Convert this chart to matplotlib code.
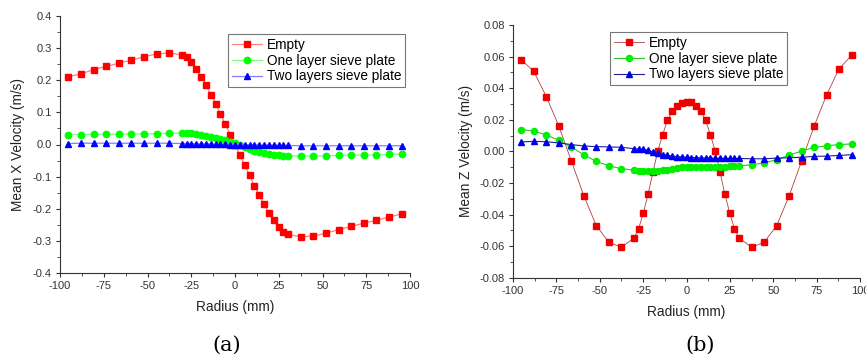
import matplotlib
matplotlib.use('Agg')
import matplotlib.pyplot as plt
from matplotlib.ticker import MultipleLocator, FormatStrFormatter

plt.rcParams['font.family'] = ['Liberation Sans', 'DejaVu Sans']
plt.rcParams['axes.unicode_minus'] = False

# 측정 위치 (반경, mm)
radius = [-95.2, -88.0, -80.8, -73.6, -66.4, -59.2, -52.0, -44.8, -37.6,
          -30.4, -27.6, -24.9, -22.1, -19.3, -16.6, -13.8, -11.0, -8.3, -5.5, -2.8,
          0.0, 2.8, 5.5, 8.3, 11.0, 13.8, 16.6, 19.3, 22.1, 24.9, 27.6, 30.4,
          37.6, 44.8, 52.0, 59.2, 66.4, 73.6, 80.8, 88.0, 95.2]

# (a) Mean X velocity
x_empty = [0.211, 0.220, 0.233, 0.243, 0.253, 0.263, 0.273, 0.282, 0.285,
           0.279, 0.272, 0.256, 0.235, 0.211, 0.185, 0.155, 0.127, 0.095, 0.063, 0.031,
           0.000, -0.033, -0.065, -0.096, -0.128, -0.158, -0.186, -0.213, -0.236, -0.257, -0.272, -0.280,
           -0.287, -0.285, -0.276, -0.265, -0.255, -0.245, -0.236, -0.226, -0.216]
x_one = [0.031, 0.031, 0.032, 0.032, 0.032, 0.033, 0.033, 0.034, 0.035,
         0.036, 0.036, 0.035, 0.033, 0.031, 0.028, 0.024, 0.020, 0.016, 0.013, 0.009,
         0.005, 0.000, -0.008, -0.014, -0.019, -0.023, -0.027, -0.030, -0.032, -0.034, -0.035, -0.035,
         -0.036, -0.036, -0.035, -0.034, -0.033, -0.033, -0.032, -0.031, -0.030]
x_two = [0.003, 0.004, 0.004, 0.004, 0.004, 0.004, 0.004, 0.004, 0.004,
         0.003, 0.003, 0.003, 0.002, 0.002, 0.002, 0.002, 0.001, 0.001, 0.001, 0.000,
         0.000, 0.000, -0.001, -0.001, -0.001, -0.002, -0.002, -0.002, -0.002, -0.003, -0.003, -0.003,
         -0.004, -0.004, -0.004, -0.004, -0.004, -0.004, -0.004, -0.004, -0.004]

# (b) Mean Z velocity
z_empty = [0.0580, 0.0506, 0.0347, 0.0160, -0.0060, -0.0280, -0.0470, -0.0575, -0.0607,
           -0.0550, -0.0490, -0.0390, -0.0270, -0.0130, 0.0000, 0.0104, 0.0196, 0.0255, 0.0290, 0.0309,
           0.0315, 0.0310, 0.0290, 0.0255, 0.0196, 0.0104, 0.0000, -0.0130, -0.0270, -0.0390, -0.0490, -0.0550,
           -0.0607, -0.0575, -0.0470, -0.0280, -0.0060, 0.0160, 0.0359, 0.0524, 0.0607]
z_one = [0.0138, 0.0128, 0.0104, 0.0070, 0.0026, -0.0021, -0.0064, -0.0091, -0.0110,
         -0.0118, -0.0122, -0.0125, -0.0127, -0.0127, -0.0125, -0.0121, -0.0116, -0.0110, -0.0105, -0.0101,
         -0.0098, -0.0097, -0.0096, -0.0096, -0.0096, -0.0096, -0.0096, -0.0096, -0.0096, -0.0095, -0.0094, -0.0092,
         -0.0085, -0.0073, -0.0053, -0.0024, 0.0002, 0.0025, 0.0035, 0.0043, 0.0047]
z_two = [0.0060, 0.0063, 0.0061, 0.0053, 0.0043, 0.0034, 0.0030, 0.0028, 0.0026,
         0.0017, 0.0015, 0.0012, 0.0006, -0.0004, -0.0013, -0.0020, -0.0026, -0.0030, -0.0033, -0.0035,
         -0.0037, -0.0039, -0.0040, -0.0041, -0.0042, -0.0043, -0.0043, -0.0044, -0.0044, -0.0045, -0.0045, -0.0045,
         -0.0047, -0.0047, -0.0043, -0.0041, -0.0037, -0.0032, -0.0030, -0.0026, -0.0021]

labels = ['Empty', 'One layer sieve plate', 'Two layers sieve plate']

fig = plt.figure(figsize=(8.66, 3.57), dpi=100)
ax1 = fig.add_axes([60 / 866, 1 - 273 / 357, 350 / 866, 257 / 357])
ax2 = fig.add_axes([513 / 866, 1 - 277.7 / 357, 347 / 866, 252.7 / 357])


def style_axis(ax, ylim, ymaj, yfmt, ylabel, ylab_x, xlab_y):
    ax.set_xlim(-100, 100)
    ax.set_ylim(*ylim)
    ax.xaxis.set_major_locator(MultipleLocator(25))
    ax.xaxis.set_minor_locator(MultipleLocator(12.5))
    ax.yaxis.set_major_locator(MultipleLocator(ymaj))
    ax.yaxis.set_minor_locator(MultipleLocator(ymaj / 2))
    ax.yaxis.set_major_formatter(FormatStrFormatter(yfmt))
    for s in ['top', 'right']:
        ax.spines[s].set_visible(False)
    for s in ['left', 'bottom']:
        ax.spines[s].set_linewidth(0.8)
        ax.spines[s].set_color('#333333')
    ax.tick_params(which='major', direction='out', length=3, width=0.8,
                   labelsize=8, colors='#333333', pad=3)
    ax.tick_params(which='minor', direction='out', length=2, width=0.6, colors='#333333')
    ax.set_xlabel('Radius (mm)', fontsize=9.8, color='#222222')
    ax.set_ylabel(ylabel, fontsize=9.8, color='#222222')
    ax.xaxis.set_label_coords(0.5, xlab_y)
    ax.yaxis.set_label_coords(ylab_x, 0.5)
    ax.patch.set_alpha(0)


# (a)
ax1.plot(radius, x_empty, color='#ff8080', lw=0.9, marker='s', ms=4.2,
         mfc='#ff0000', mec='#ff0000', label=labels[0])
ax1.plot(radius, x_one, color='#80ff80', lw=0.9, marker='o', ms=4.6,
         mfc='#00ff00', mec='#00ff00', label=labels[1])
ax1.plot(radius, x_two, color='#8080ff', lw=0.9, marker='^', ms=4.6,
         mfc='#0000ff', mec='#0000ff', label=labels[2])
style_axis(ax1, (-0.4, 0.4), 0.1, '%.1f', 'Mean X Velocity (m/s)', -0.10, -0.105)

# (b)
ax2.plot(radius, z_empty, color='#b04040', lw=0.6, marker='s', ms=3.8,
         mfc='#ee0000', mec='#ee0000', label=labels[0])
ax2.plot(radius, z_one, color='#30c030', lw=0.8, marker='o', ms=4.4,
         mfc='#00ee00', mec='#00ee00', label=labels[1])
ax2.plot(radius, z_two, color='#202090', lw=0.8, marker='^', ms=4.4,
         mfc='#0000ee', mec='#0000ee', label=labels[2])
style_axis(ax2, (-0.08, 0.08), 0.02, '%.2f', 'Mean Z Velocity (m/s)', -0.115, -0.11)

for ax, (lx, ty) in [(ax1, (228 / 866, 1 - 34 / 357)), (ax2, (610 / 866, 1 - 32 / 357))]:
    leg = ax.legend(loc='upper left', bbox_to_anchor=(lx, ty), bbox_transform=fig.transFigure,
                    fontsize=9.8, frameon=True, fancybox=False, borderaxespad=0,
                    handlelength=2.2, handletextpad=0.35, labelspacing=0.12, borderpad=0.3)
    leg.get_frame().set_edgecolor('#555555')
    leg.get_frame().set_linewidth(0.8)

fig.text(227 / 866, 1 - 345 / 357, '(a)', ha='center', va='center', fontsize=15,
         family=['DejaVu Serif'])
fig.text(700 / 866, 1 - 345 / 357, '(b)', ha='center', va='center', fontsize=15,
         family=['DejaVu Serif'])

fig.savefig('out.png', dpi=100)
